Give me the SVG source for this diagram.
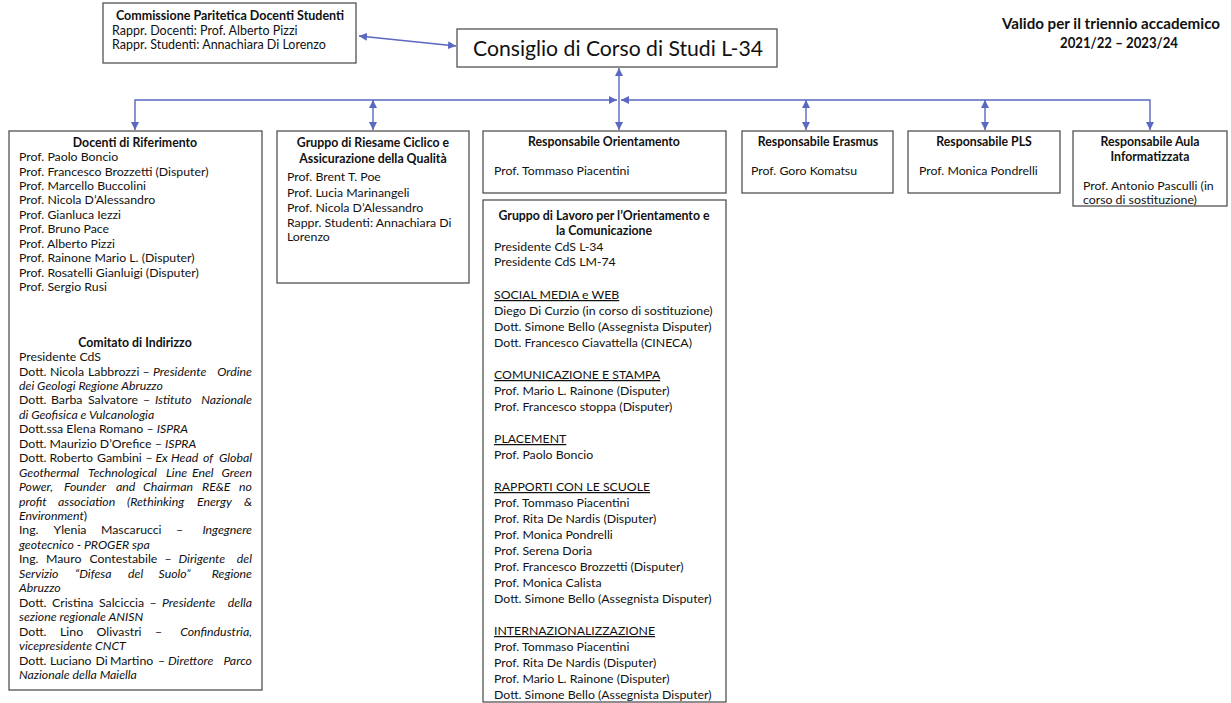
<svg xmlns="http://www.w3.org/2000/svg" width="1231" height="703" viewBox="0 0 1231 703">
<style>
text{font-family:Lato,"Liberation Sans",sans-serif;font-size:12.3px;fill:#111}
.b{font-weight:bold}
.c{text-anchor:middle}
.e{text-anchor:end}
.i{font-style:italic}
.u{text-decoration:underline}
.s{font-size:12.5px}
.box{fill:#fff;stroke:#444;stroke-width:1.2}
.con{fill:none;stroke:#5a68c0;stroke-width:1.4}
</style>
<defs>
<marker id="ah" viewBox="0 0 10 10" refX="10" refY="5" markerWidth="8" markerHeight="8" markerUnits="userSpaceOnUse" orient="auto-start-reverse">
<path d="M0,0 L10,5 L0,10 z" fill="#5a68c0"/>
</marker>
</defs>
<rect width="1231" height="703" fill="#fff"/>

<g id="connectors">
<line class="con" x1="359" y1="36" x2="456" y2="46" marker-start="url(#ah)" marker-end="url(#ah)"/>
<line class="con" x1="619" y1="100" x2="619" y2="68" marker-end="url(#ah)"/>
<line class="con" x1="619" y1="100" x2="619" y2="130" marker-end="url(#ah)"/>
<path class="con" d="M135,130 V100 H617" marker-start="url(#ah)" marker-end="url(#ah)"/>
<path class="con" d="M1150,130 V100 H621" marker-start="url(#ah)" marker-end="url(#ah)"/>
<line class="con" x1="373" y1="100" x2="373" y2="130" marker-start="url(#ah)" marker-end="url(#ah)"/>
<line class="con" x1="806" y1="100" x2="806" y2="130" marker-start="url(#ah)" marker-end="url(#ah)"/>
<line class="con" x1="985" y1="100" x2="985" y2="130" marker-start="url(#ah)" marker-end="url(#ah)"/>
</g>

<g id="commissione">
<rect class="box" x="103" y="3" width="253" height="60"/>
<text class="b c s" x="230" y="20">Commissione Paritetica Docenti Studenti</text>
<text class="s" x="112" y="35">Rappr. Docenti: Prof. Alberto Pizzi</text>
<text class="s" x="112" y="49">Rappr. Studenti: Annachiara Di Lorenzo</text>
</g>

<g id="consiglio">
<rect class="box" x="457" y="29" width="320" height="38"/>
<text class="c" x="618" y="56" style="font-size:21px" textLength="290" lengthAdjust="spacingAndGlyphs">Consiglio di Corso di Studi L-34</text>
</g>

<g id="validita">
<text class="b c" x="1111" y="29" style="font-size:14.5px" textLength="218" lengthAdjust="spacingAndGlyphs">Valido per il triennio accademico</text>
<text class="b c" x="1119" y="48" style="font-size:14.5px" textLength="118" lengthAdjust="spacingAndGlyphs">2021/22 – 2023/24</text>
</g>

<g id="docenti">
<rect class="box" x="9" y="131" width="253" height="559"/>
<text class="b c" x="135" y="146.5">Docenti di Riferimento</text>
<text x="19" y="161">Prof. Paolo Boncio</text>
<text x="19" y="175.5">Prof. Francesco Brozzetti (Disputer)</text>
<text x="19" y="190">Prof. Marcello Buccolini</text>
<text x="19" y="204.4">Prof. Nicola D’Alessandro</text>
<text x="19" y="218.8">Prof. Gianluca Iezzi</text>
<text x="19" y="233.3">Prof. Bruno Pace</text>
<text x="19" y="247.7">Prof. Alberto Pizzi</text>
<text x="19" y="262.2">Prof. Rainone Mario L. (Disputer)</text>
<text x="19" y="276.6">Prof. Rosatelli Gianluigi (Disputer)</text>
<text x="19" y="291">Prof. Sergio Rusi</text>

<text class="b c" x="135" y="347">Comitato di Indirizzo</text>
<text x="19" y="361">Presidente CdS</text>
<text y="375.5"><tspan x="19">Dott.</tspan><tspan x="50">Nicola</tspan><tspan x="88">Labbrozzi</tspan><tspan x="142.5">–</tspan><tspan x="153" class="i">Presidente</tspan></text>
<text class="i e" x="252" y="375.5">Ordine</text>
<text class="i" x="19" y="389.9">dei Geologi Regione Abruzzo</text>
<text y="404.4"><tspan x="19">Dott.</tspan><tspan x="51">Barba</tspan><tspan x="88">Salvatore</tspan><tspan x="143">–</tspan><tspan x="155" class="i">Istituto</tspan></text>
<text class="i e" x="252" y="404.4">Nazionale</text>
<text class="i" x="19" y="418.8">di Geofisica e Vulcanologia</text>
<text x="19" y="433.3">Dott.ssa Elena Romano – <tspan class="i">ISPRA</tspan></text>
<text x="19" y="447.7">Dott. Maurizio D’Orefice – <tspan class="i">ISPRA</tspan></text>
<text y="462.2"><tspan x="19">Dott.</tspan><tspan x="49.5">Roberto</tspan><tspan x="97">Gambini</tspan><tspan x="145.5">–</tspan><tspan x="155.5" class="i">Ex</tspan><tspan x="171" class="i">Head</tspan><tspan x="203" class="i">of</tspan></text>
<text class="i e" x="252" y="462.2">Global</text>
<text class="i" y="476.6"><tspan x="19">Geothermal</tspan><tspan x="88">Technological</tspan><tspan x="166">Line</tspan><tspan x="192">Enel</tspan></text>
<text class="i e" x="252" y="476.6">Green</text>
<text class="i" y="491.1"><tspan x="19">Power,</tspan><tspan x="64">Founder</tspan><tspan x="116">and</tspan><tspan x="143">Chairman</tspan><tspan x="202">RE&amp;E</tspan></text>
<text class="i e" x="252" y="491.1">no</text>
<text class="i" y="505.5"><tspan x="19">profit</tspan><tspan x="58">association</tspan><tspan x="127">(Rethinking</tspan><tspan x="197">Energy</tspan></text>
<text class="i e" x="252" y="505.5">&amp;</text>
<text x="19" y="520"><tspan class="i">Environment</tspan>)</text>
<text y="534.4"><tspan x="19">Ing.</tspan><tspan x="53.5">Ylenia</tspan><tspan x="101">Mascarucci</tspan><tspan x="176">–</tspan></text>
<text class="i e" x="252" y="534.4">Ingegnere</text>
<text class="i" x="19" y="548.9">geotecnico - PROGER spa</text>
<text y="563.3"><tspan x="19">Ing.</tspan><tspan x="46">Mauro</tspan><tspan x="89.5">Contestabile</tspan><tspan x="164.5">–</tspan><tspan x="178.5" class="i">Dirigente</tspan></text>
<text class="i e" x="252" y="563.3">del</text>
<text class="i" y="577.8"><tspan x="19">Servizio</tspan><tspan x="75">“Difesa</tspan><tspan x="128">del</tspan><tspan x="158.5">Suolo”</tspan></text>
<text class="i e" x="252" y="577.8">Regione</text>
<text class="i" x="19" y="592.2">Abruzzo</text>
<text y="606.7"><tspan x="19">Dott.</tspan><tspan x="52">Cristina</tspan><tspan x="99">Salciccia</tspan><tspan x="149.5">–</tspan><tspan x="162" class="i">Presidente</tspan></text>
<text class="i e" x="252" y="606.7">della</text>
<text class="i" x="19" y="621.1">sezione regionale ANISN</text>
<text y="635.6"><tspan x="19">Dott.</tspan><tspan x="60">Lino</tspan><tspan x="96.5">Olivastri</tspan><tspan x="155">–</tspan></text>
<text class="i e" x="252" y="635.6">Confindustria,</text>
<text class="i" x="19" y="650">vicepresidente CNCT</text>
<text y="664.5"><tspan x="19">Dott.</tspan><tspan x="50">Luciano</tspan><tspan x="95.5">Di</tspan><tspan x="110">Martino</tspan><tspan x="158">–</tspan><tspan x="168" class="i">Direttore</tspan></text>
<text class="i e" x="252" y="664.5">Parco</text>
<text class="i" x="19" y="678.9">Nazionale della Maiella</text>
</g>

<g id="riesame">
<rect class="box" x="277" y="131" width="192" height="152"/>
<text class="b c" x="373" y="147">Gruppo di Riesame Ciclico e</text>
<text class="b c" x="373" y="163">Assicurazione della Qualità</text>
<text x="287" y="181">Prof. Brent T. Poe</text>
<text x="287" y="197">Prof. Lucia Marinangeli</text>
<text x="287" y="212">Prof. Nicola D’Alessandro</text>
<text x="287" y="227">Rappr. Studenti: Annachiara Di</text>
<text x="287" y="241">Lorenzo</text>
</g>

<g id="orientamento">
<rect class="box" x="483" y="131" width="243" height="62"/>
<text class="b c" x="604" y="146">Responsabile Orientamento</text>
<text x="494" y="175">Prof. Tommaso Piacentini</text>
</g>

<g id="gruppo-lavoro">
<rect class="box" x="483" y="200" width="243" height="502"/>
<text class="b c" x="604" y="220">Gruppo di Lavoro per l’Orientamento e</text>
<text class="b c" x="604" y="235">la Comunicazione</text>
<text x="494" y="251">Presidente CdS L-34</text>
<text x="494" y="266">Presidente CdS LM-74</text>
<text class="u" x="494" y="299">SOCIAL MEDIA e WEB</text>
<text x="494" y="315">Diego Di Curzio (in corso di sostituzione)</text>
<text x="494" y="331">Dott. Simone Bello (Assegnista Disputer)</text>
<text x="494" y="347">Dott. Francesco Ciavattella (CINECA)</text>
<text class="u" x="494" y="379">COMUNICAZIONE E STAMPA</text>
<text x="494" y="395">Prof. Mario L. Rainone (Disputer)</text>
<text x="494" y="411">Prof. Francesco stoppa (Disputer)</text>
<text class="u" x="494" y="443">PLACEMENT</text>
<text x="494" y="459">Prof. Paolo Boncio</text>
<text class="u" x="494" y="491">RAPPORTI CON LE SCUOLE</text>
<text x="494" y="507">Prof. Tommaso Piacentini</text>
<text x="494" y="523">Prof. Rita De Nardis (Disputer)</text>
<text x="494" y="539">Prof. Monica Pondrelli</text>
<text x="494" y="555">Prof. Serena Doria</text>
<text x="494" y="571">Prof. Francesco Brozzetti (Disputer)</text>
<text x="494" y="587">Prof. Monica Calista</text>
<text x="494" y="603">Dott. Simone Bello (Assegnista Disputer)</text>
<text class="u" x="494" y="635">INTERNAZIONALIZZAZIONE</text>
<text x="494" y="651">Prof. Tommaso Piacentini</text>
<text x="494" y="667">Prof. Rita De Nardis (Disputer)</text>
<text x="494" y="683">Prof. Mario L. Rainone (Disputer)</text>
<text x="494" y="699">Dott. Simone Bello (Assegnista Disputer)</text>
</g>

<g id="erasmus">
<rect class="box" x="742" y="131" width="151" height="62"/>
<text class="b c" x="818" y="146">Responsabile Erasmus</text>
<text x="751" y="175">Prof. Goro Komatsu</text>
</g>

<g id="pls">
<rect class="box" x="908" y="131" width="152" height="62"/>
<text class="b c" x="984" y="146">Responsabile PLS</text>
<text x="919" y="175">Prof. Monica Pondrelli</text>
</g>

<g id="aula">
<rect class="box" x="1073" y="131" width="154" height="75"/>
<text class="b c" x="1150" y="146">Responsabile Aula</text>
<text class="b c" x="1150" y="161">Informatizzata</text>
<text x="1083" y="190">Prof. Antonio Pasculli (in</text>
<text x="1083" y="204">corso di sostituzione)</text>
</g>
</svg>
